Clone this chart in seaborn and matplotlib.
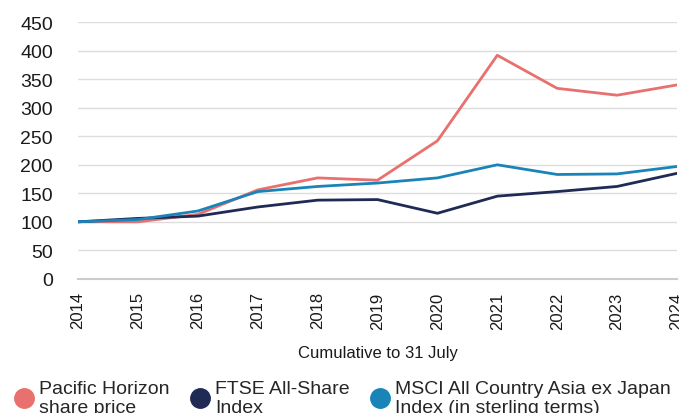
import pandas as pd
import numpy as np
import matplotlib
matplotlib.use('Agg')
import matplotlib.pyplot as plt
import seaborn as sns
from matplotlib.lines import Line2D

years = [2014, 2015, 2016, 2017, 2018, 2019, 2020, 2021, 2022, 2023, 2024]
pacific = [100, 100, 113, 156, 177, 173, 242, 392, 334, 322, 340]
ftse = [100, 106, 110, 126, 138, 139, 115, 145, 153, 162, 185]
msci = [100, 104, 119, 153, 162, 168, 177, 200, 183, 184, 197]

names = ['Pacific Horizon\nshare price', 'FTSE All-Share\nIndex',
         'MSCI All Country Asia ex Japan\nIndex (in sterling terms)']
colors = ['#E8706E', '#1F2A55', '#1A84B8']

df = pd.DataFrame({'year': years * 3,
                   'value': pacific + ftse + msci,
                   'series': [names[0]] * 11 + [names[1]] * 11 + [names[2]] * 11})

sns.set_style('white')
plt.rcParams['font.family'] = ['Liberation Sans', 'DejaVu Sans']

fig = plt.figure(figsize=(6.79, 4.14), dpi=100)
ax = fig.add_axes([0.115, 0.324, 0.882, 0.62])

sns.lineplot(data=df, x='year', y='value', hue='series', palette=colors,
             linewidth=2, ax=ax, legend=False)

ax.set_xlim(2014, 2024)
ax.set_ylim(0, 450)
ax.set_yticks(range(0, 451, 50))
ax.set_xticks(years)
ax.set_xticklabels([str(y) for y in years], rotation=90, fontsize=12)
ax.tick_params(axis='y', labelsize=14, length=0, pad=18, colors='#1a1a1a')
ax.tick_params(axis='x', length=6, color='#cccccc', colors='#1a1a1a', pad=3)
ax.grid(axis='y', color='#dddddd', linewidth=1)
for s in ['top', 'right', 'left']:
    ax.spines[s].set_visible(False)
ax.spines['bottom'].set_color('#cccccc')
ax.spines['bottom'].set_linewidth(1.5)
ax.set_ylabel('')
ax.set_xlabel('Cumulative to 31 July', fontsize=12, labelpad=12, color='#1a1a1a')

handles = [Line2D([], [], marker='o', linestyle='', markersize=14,
                  markerfacecolor=c, markeredgecolor=c) for c in colors]
fig.legend(handles, names, ncol=3, loc='lower left', bbox_to_anchor=(-0.012, -0.05),
           frameon=False, fontsize=14, handletextpad=0.05, columnspacing=0.78,
           handlelength=1.5, labelspacing=0.2)

fig.savefig('out.png', dpi=100)
